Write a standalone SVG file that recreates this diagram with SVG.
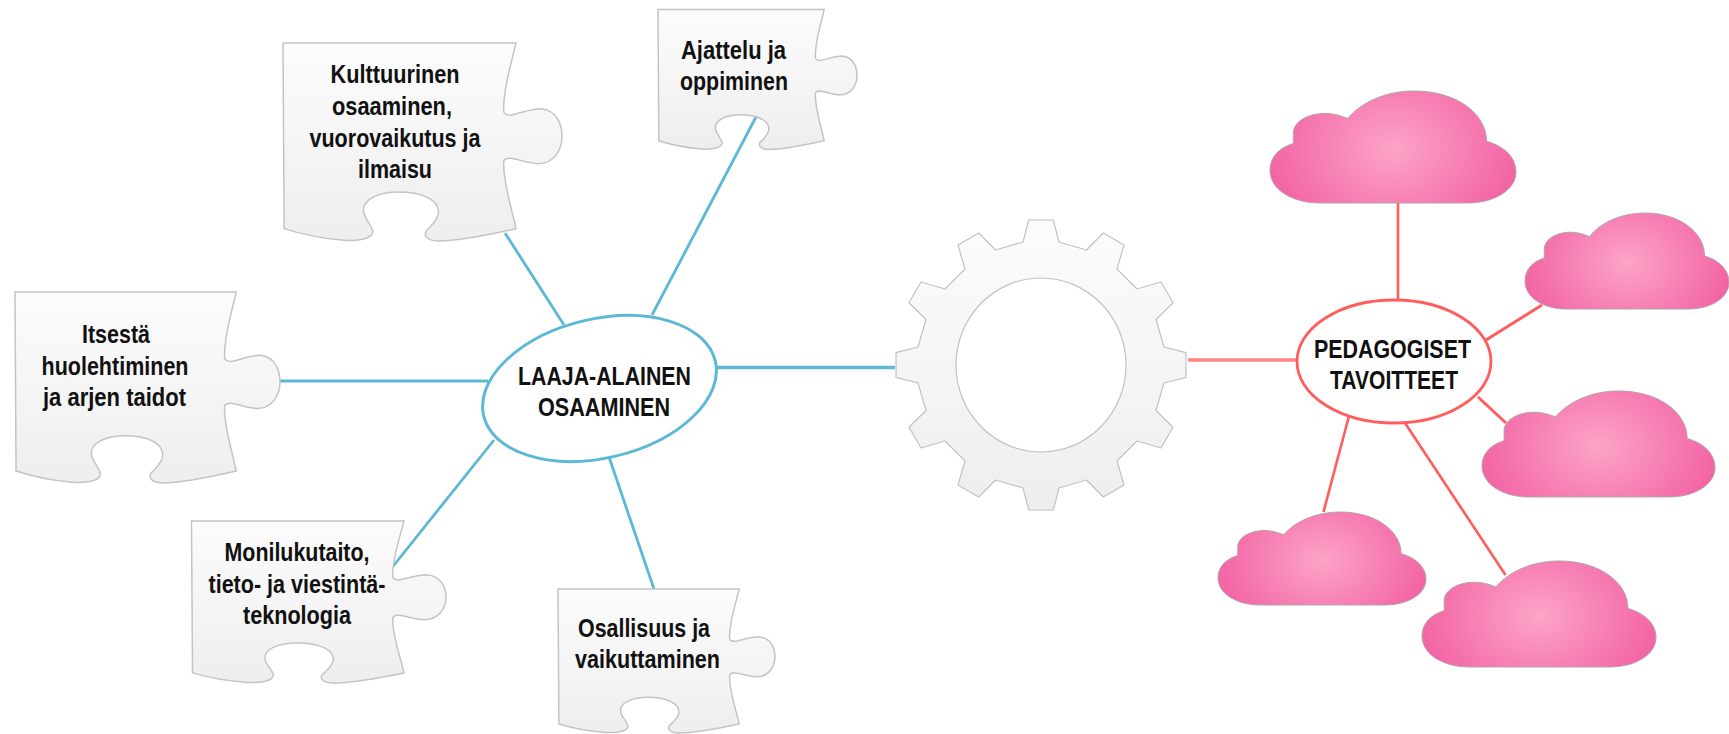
<svg xmlns="http://www.w3.org/2000/svg" width="1729" height="734" viewBox="0 0 1729 734">
<style>
.t{font-family:"Liberation Sans",Arial,sans-serif;font-weight:bold;font-size:25px;fill:#111;text-anchor:middle}
.puz{fill:url(#gp);stroke:#c4c4c4;stroke-width:1.500;vector-effect:non-scaling-stroke}
.cl{fill:url(#gc);stroke:#b3a3ab;stroke-width:1;vector-effect:non-scaling-stroke}
.b{stroke:#5cb8d5;stroke-width:2.800;fill:none}
.r{stroke:#ff5c5c;stroke-width:2.600;fill:none}
</style>
<defs>
<linearGradient id="gp" x1="0" y1="0" x2="0" y2="1"><stop offset="0" stop-color="#fcfcfc"/><stop offset="1" stop-color="#eeeeee"/></linearGradient>
<radialGradient id="gc" cx=".5" cy=".52" r="1" gradientTransform="translate(.5 .52) scale(.55 .95) translate(-.5 -.52)"><stop offset="0" stop-color="#fca4c7"/><stop offset="1" stop-color="#f25fa2"/></radialGradient>
<path id="puzzle" class="puz" d="M0,0 L420,0 C415,42 395,142 398,207 C405,232 435,197 465,197 C495,202 503,247 503,280 C503,317 490,362 460,362 C435,362 405,332 398,354 C395,412 415,512 420,557 C380,572 320,594 280,594 C255,592 250,572 265,552 C275,535 282,520 280,502 C278,470 250,447 210,447 C170,447 145,470 145,502 C145,525 160,545 162,565 C162,590 130,594 110,592 C70,587 30,572 2,557 Z"/>
<path id="cloud" class="cl" d="M90,335 L355,335 C405,335 443,295 443,242 C443,202 425,167 390,150 C390,67 335,0 260,0 C210,0 165,32 140,82 C125,72 112,67 100,67 C65,67 42,95 42,125 L42,157 C15,170 0,200 0,237 C0,295 40,335 90,335 Z"/>
</defs>
<g id="connectors">
<line class="b" x1="505" y1="233" x2="564" y2="325"/>
<line class="b" x1="756" y1="117" x2="652" y2="315"/>
<line class="b" x1="280" y1="381" x2="488" y2="381" style="stroke-width:3"/>
<line class="b" x1="716" y1="367.500" x2="895" y2="367.500" style="stroke-width:3.500"/>
<line class="b" x1="392.500" y1="567" x2="494" y2="440"/>
<line class="b" x1="609" y1="457" x2="654" y2="589"/>
<line class="r" x1="1188" y1="360" x2="1297" y2="360" style="stroke-width:3.500;stroke:#ff8585"/>
<line class="r" x1="1398" y1="203" x2="1398" y2="300"/>
<line class="r" x1="1486" y1="340" x2="1542" y2="305" style="stroke-width:3"/>
<line class="r" x1="1478" y1="397" x2="1506" y2="423" style="stroke-width:3"/>
<line class="r" x1="1349" y1="416" x2="1323.500" y2="512"/>
<line class="r" x1="1405" y1="423" x2="1505.500" y2="575"/>
</g>
<g id="node-kulttuurinen">
<use href="#puzzle" transform="translate(283,43) scale(.5547,.3333)"/>
<text class="t" x="395" y="83" textLength="129" lengthAdjust="spacingAndGlyphs">Kulttuurinen</text>
<text class="t" x="392" y="115" textLength="120" lengthAdjust="spacingAndGlyphs">osaaminen,</text>
<text class="t" x="395" y="147" textLength="171" lengthAdjust="spacingAndGlyphs">vuorovaikutus ja</text>
<text class="t" x="395" y="178" textLength="74" lengthAdjust="spacingAndGlyphs">ilmaisu</text>
</g>
<g id="node-ajattelu">
<use href="#puzzle" transform="translate(658,9.500) scale(.3956,.2357)"/>
<text class="t" x="733.500" y="59" textLength="105" lengthAdjust="spacingAndGlyphs">Ajattelu ja</text>
<text class="t" x="734" y="90" textLength="108" lengthAdjust="spacingAndGlyphs">oppiminen</text>
</g>
<g id="node-itsesta">
<use href="#puzzle" transform="translate(15,292) scale(.5268,.3215)"/>
<text class="t" x="116" y="343" textLength="68" lengthAdjust="spacingAndGlyphs">Itsestä</text>
<text class="t" x="115" y="375" textLength="147" lengthAdjust="spacingAndGlyphs">huolehtiminen</text>
<text class="t" x="114.500" y="406" textLength="143" lengthAdjust="spacingAndGlyphs">ja arjen taidot</text>
</g>
<g id="node-monilukutaito">
<use href="#puzzle" transform="translate(191.500,521) scale(.506,.2727)"/>
<text class="t" x="297" y="561" textLength="145" lengthAdjust="spacingAndGlyphs">Monilukutaito,</text>
<text class="t" x="297" y="593" textLength="177" lengthAdjust="spacingAndGlyphs">tieto- ja viestintä-</text>
<text class="t" x="297" y="624" textLength="108" lengthAdjust="spacingAndGlyphs">teknologia</text>
</g>
<g id="node-osallisuus">
<use href="#puzzle" transform="translate(558,589) scale(.4314,.2424)"/>
<text class="t" x="644" y="637" textLength="132" lengthAdjust="spacingAndGlyphs">Osallisuus ja</text>
<text class="t" x="647.500" y="668" textLength="145" lengthAdjust="spacingAndGlyphs">vaikuttaminen</text>
</g>
<g id="node-laaja">
<ellipse cx="599.500" cy="388.500" rx="119" ry="69.500" transform="rotate(-13.300 599.500 388.500)" fill="#fff" stroke="#5cb8d5" stroke-width="3"/>
<text class="t" x="604.500" y="385" textLength="173" lengthAdjust="spacingAndGlyphs">LAAJA-ALAINEN</text>
<text class="t" x="604" y="416" textLength="132" lengthAdjust="spacingAndGlyphs">OSAAMINEN</text>
</g>
<g id="node-gear">
<path transform="translate(1041,365)" fill="url(#gp)" stroke="#c2c2c2" stroke-width="1.200" stroke-linejoin="round" fill-rule="evenodd" d="M-12.3,-145 L12.3,-145 L18,-123 L45.5,-115 L62.3,-132 L83,-120 L76,-96 L96,-76 L120,-83 L132,-62.3 L115,-45.5 L123,-18 L145,-12.3 L145,12.3 L123,18 L115,45.500 L132,62.3 L120,83 L96,76 L76,96 L83,120 L62.3,132 L45.5,115 L18,123 L12.3,145 L-12.3,145 L-18,123 L-45.5,115 L-62.3,132 L-83,120 L-76,96 L-96,76 L-120,83 L-132,62.3 L-115,45.5 L-123,18 L-145,12.3 L-145,-12.3 L-123,-18 L-115,-45.5 L-132,-62.3 L-120,-83 L-96,-76 L-76,-96 L-83,-120 L-62.3,-132 L-45.5,-115 L-18,-123 Z M-85,0 A85,87 0 1 0 85,0 A85,87 0 1 0 -85,0 Z"/>
</g>
<g id="node-pedagogiset">
<ellipse cx="1394" cy="361.500" rx="97" ry="61.500" fill="#fff" stroke="#ff5c5c" stroke-width="2.800"/>
<text class="t" x="1392.500" y="358" textLength="157" lengthAdjust="spacingAndGlyphs">PEDAGOGISET</text>
<text class="t" x="1394" y="389" textLength="128" lengthAdjust="spacingAndGlyphs">TAVOITTEET</text>
</g>
<g id="node-cloud-1"><use href="#cloud" transform="translate(1270,91) scale(.5553,.3343)"/></g>
<g id="node-cloud-2"><use href="#cloud" transform="translate(1525,213) scale(.4605,.2866)"/></g>
<g id="node-cloud-3"><use href="#cloud" transform="translate(1482,391) scale(.526,.3164)"/></g>
<g id="node-cloud-4"><use href="#cloud" transform="translate(1218,512) scale(.4695,.2776)"/></g>
<g id="node-cloud-5"><use href="#cloud" transform="translate(1422,561) scale(.5282,.3164)"/></g>
</svg>
